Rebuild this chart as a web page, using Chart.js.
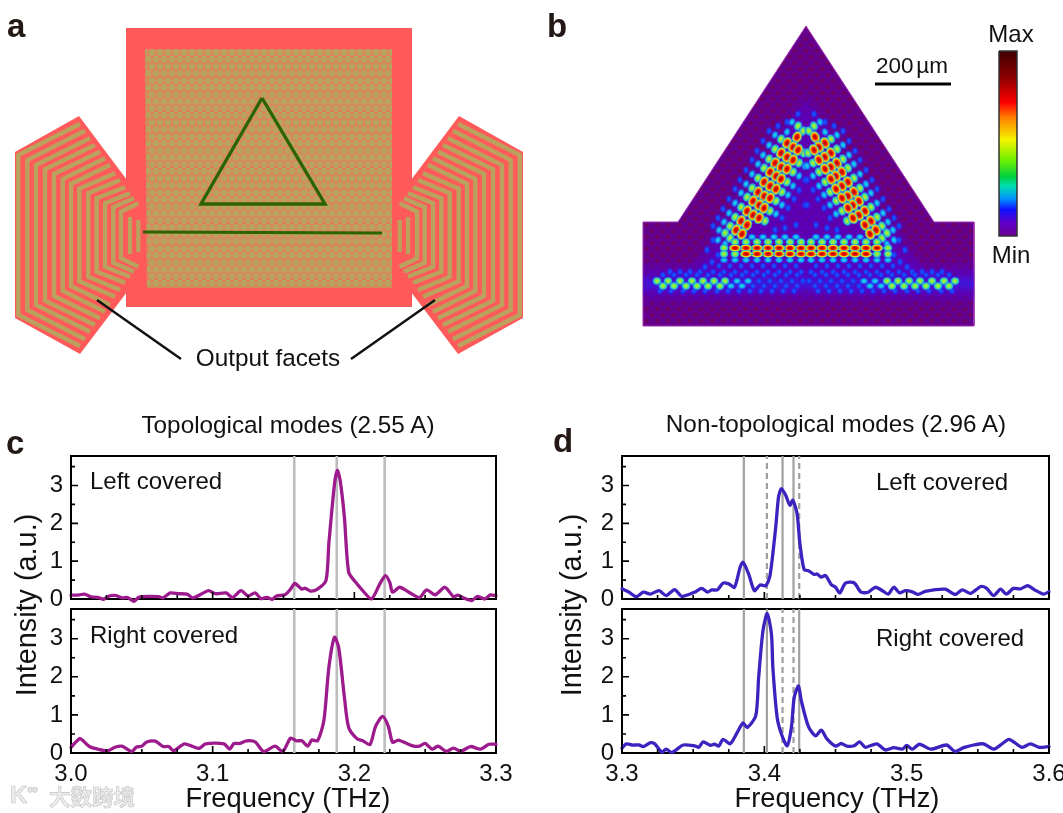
<!DOCTYPE html>
<html><head><meta charset="utf-8">
<style>
html,body{margin:0;padding:0;background:#fff;width:1063px;height:813px;overflow:hidden}
body{font-family:"Liberation Sans",Arial,sans-serif;color:#111;position:relative}
canvas{position:absolute}
.t{position:absolute;white-space:nowrap;line-height:1;transform:translateY(-50%)}
.c{transform:translate(-50%,-50%)}
.p{font-weight:bold;font-size:33px;color:#231815}
.r{transform:translate(-50%,-50%) rotate(-90deg);font-size:28.8px}
#glowClip{position:absolute;left:0;top:0;width:1063px;height:813px;clip-path:polygon(806px 26px,934px 222px,974px 222px,974px 326px,643px 326px,643px 222px,678px 222px)}
#glow{filter:blur(4px)}
</style></head><body>
<canvas id="base" width="1063" height="813" style="left:0;top:0"></canvas>
<div id="glowClip"><canvas id="glow" width="1063" height="813" style="left:0;top:0"></canvas></div>
<canvas id="top" width="1063" height="813" style="left:0;top:0"></canvas>
<canvas id="c1" width="530" height="170" style="left:11px;top:444px"></canvas>
<canvas id="c2" width="530" height="218" style="left:11px;top:597px"></canvas>
<canvas id="d1" width="520" height="170" style="left:562px;top:444px"></canvas>
<canvas id="d2" width="520" height="218" style="left:562px;top:597px"></canvas>

<div class="t p" style="left:7px;top:25px">a</div>
<div class="t p" style="left:547px;top:25px">b</div>
<div class="t p" style="left:6px;top:442px">c</div>
<div class="t p" style="left:553px;top:440px">d</div>
<div class="t c" style="left:268px;top:358px;font-size:24.3px">Output facets</div>
<div class="t c" style="left:1011px;top:34px;font-size:24px">Max</div>
<div class="t c" style="left:1011px;top:255px;font-size:24px">Min</div>
<div class="t c" style="left:912px;top:66px;font-size:22.5px;word-spacing:-3.5px">200 µm</div>
<div class="t c" style="left:288px;top:425px;font-size:24.3px">Topological modes (2.55 A)</div>
<div class="t c" style="left:836px;top:424px;font-size:24.3px">Non-topological modes (2.96 A)</div>
<div class="t" style="left:90px;top:481px;font-size:24px">Left covered</div>
<div class="t" style="left:90px;top:635px;font-size:24px">Right covered</div>
<div class="t" style="left:876px;top:482px;font-size:24px">Left covered</div>
<div class="t" style="left:876px;top:638px;font-size:24px">Right covered</div>
<div class="t r" style="left:26px;top:605px">Intensity (a.u.)</div>
<div class="t r" style="left:571px;top:605px">Intensity (a.u.)</div>
<div class="t c" style="left:288px;top:798px;font-size:27.3px">Frequency (THz)</div>
<div class="t c" style="left:837px;top:798px;font-size:27.3px">Frequency (THz)</div>
<div class="t" style="left:10px;top:794px;font-size:24px;font-weight:bold;color:#ececec;-webkit-text-stroke:.6px #c4c4c4">K<sup style="font-size:15px">∞</sup></div>
<div class="t" style="left:49px;top:796px;font-size:21.5px;font-weight:bold;color:#ececec;-webkit-text-stroke:.6px #c4c4c4;font-family:'Noto Sans CJK SC'">大数跨境</div>

<script src="https://cdn.jsdelivr.net/npm/chart.js@4"></script>
<script>
// ---------- spectra: frequency (THz) and intensity (a.u.) ----------
const cLeftX=[3.000,3.006,3.0095,3.014,3.019,3.023,3.027,3.032,3.036,3.040,3.0445,3.048,3.055,3.062,3.065,3.070,3.076,3.082,3.086,3.092,3.097,3.102,3.1095,3.114,3.120,3.125,3.130,3.134,3.138,3.142,3.145,3.151,3.155,3.158,3.163,3.165,3.169,3.174,3.180,3.182,3.186,3.188,3.190,3.193,3.196,3.201,3.205,3.212,3.218,3.222,3.225,3.227,3.232,3.238,3.246,3.251,3.257,3.264,3.270,3.273,3.277,3.283,3.287,3.292,3.296,3.300];
const cLeftY=[.10,.11,.13,.06,.04,-.01,.08,.09,.03,.04,-.06,.05,.07,.06,.03,.16,.14,.13,.03,.13,.22,.14,.16,.04,.22,.08,.16,.01,.04,-.01,.08,.11,.26,.41,.26,.29,.21,.26,.49,1.46,3.04,3.40,3.13,2.16,.71,.44,.26,0,.40,.62,.44,.18,.31,.19,.04,.24,.11,.31,.06,.10,.03,-.04,.07,0,.11,.09];
const cRightX=[3.0,3.006,3.008,3.013,3.019,3.026,3.031,3.036,3.043,3.046,3.05,3.0535,3.0595,3.065,3.069,3.0725,3.08,3.086,3.0905,3.095,3.108,3.112,3.115,3.119,3.124,3.13,3.136,3.144,3.1495,3.155,3.159,3.163,3.167,3.17,3.174,3.1785,3.182,3.186,3.189,3.193,3.196,3.202,3.206,3.211,3.215,3.22,3.224,3.227,3.231,3.237,3.242,3.246,3.25,3.255,3.259,3.265,3.27,3.275,3.282,3.289,3.295,3.3];
const cRightY=[.15,.38,.34,.17,.10,.06,.15,.18,.04,.15,.18,.29,.31,.17,.17,.06,.24,.17,.12,.24,.24,.10,.25,.25,.32,.29,.04,.18,.04,.39,.32,.32,.18,.34,.32,.85,2.24,3.04,2.76,1.46,.67,.37,.32,.22,.70,.96,.70,.28,.34,.25,.18,.18,.25,.10,.18,.04,.13,.04,.17,.10,.23,.23];
const dLeftX=[3.3,3.305,3.31,3.315,3.32,3.326,3.331,3.337,3.342,3.351,3.356,3.36,3.363,3.367,3.371,3.375,3.379,3.383,3.385,3.389,3.393,3.397,3.401,3.404,3.408,3.41,3.412,3.415,3.418,3.42,3.423,3.425,3.428,3.431,3.435,3.437,3.44,3.443,3.447,3.45,3.453,3.457,3.463,3.468,3.473,3.478,3.483,3.487,3.491,3.495,3.499,3.504,3.508,3.513,3.527,3.534,3.539,3.545,3.552,3.556,3.561,3.566,3.57,3.575,3.58,3.585,3.59,3.596,3.6];
const dLeftY=[.27,.18,.06,.18,.13,.22,.09,.25,.07,.18,.28,.18,.24,.24,.42,.40,.31,.84,.97,.66,.22,.37,.35,.62,1.90,2.70,2.92,2.74,2.48,2.61,2.26,1.46,.77,.75,.65,.66,.58,.62,.38,.31,.16,.42,.43,.18,.18,.31,.22,.13,.31,.16,.22,.19,.12,.20,.26,.12,.24,.15,.33,.29,.09,.26,.13,.28,.27,.35,.24,.13,.19];
const dRightX=[3.3,3.303,3.307,3.312,3.315,3.32,3.323,3.328,3.331,3.335,3.343,3.351,3.354,3.357,3.362,3.365,3.368,3.371,3.376,3.381,3.385,3.388,3.394,3.396,3.399,3.402,3.405,3.406,3.409,3.412,3.416,3.419,3.421,3.424,3.426,3.431,3.436,3.44,3.444,3.45,3.454,3.458,3.463,3.467,3.471,3.479,3.485,3.491,3.497,3.5,3.504,3.509,3.517,3.528,3.534,3.54,3.547,3.554,3.561,3.567,3.572,3.581,3.587,3.593,3.6];
const dRightY=[.13,.24,.21,.21,.17,.27,.24,.02,.10,.01,.21,.19,.15,.29,.20,.23,.18,.36,.24,.54,.79,.67,.98,1.98,3.20,3.66,3.12,2.24,.93,.50,.19,.67,1.46,1.76,1.37,.69,.45,.60,.37,.18,.25,.18,.19,.29,.15,.24,.08,.14,.10,.20,.10,.23,.10,.21,.04,.14,.21,.24,.10,.24,.36,.15,.24,.15,.17];
// reference mode lines (THz)
const cModes=[3.1576,3.1876,3.2214];
const dLeftSolid=[3.3856,3.4128,3.4205], dLeftDashed=[3.4018,3.4245];
const dRightSolid=[3.3856,3.4018,3.4245], dRightDashed=[3.4128,3.4205];
// tick values
const yMajor=[0,1,2,3], yMinor=[.5,1.5,2.5,3.5];
const cXMajor=[3.0,3.1,3.2,3.3], cXMinor=[3.025,3.05,3.075,3.125,3.15,3.175,3.225,3.25,3.275];
const dXMajor=[3.3,3.4,3.5,3.6], dXMinor=[3.325,3.35,3.375,3.425,3.45,3.475,3.525,3.55,3.575];
const yTop=3.78;

// ---------- panel a outline, in page units ----------
const squareOuter=[[126,28],[412,28],[412,307],[126,307]];
const latticeArea=[[145,49],[392,49],[392,288],[147,288]];
const hornLeft=[[79,116],[15,152],[15,318],[80,354],[127,292],[127,180]];
const triangleA=[[262,98],[201,204],[325,204],[262,98]];
const waveguideA=[[143,232],[382,233]];
const calloutL=[[97,300],[181,359]], calloutR=[[435,300],[351,359]];
const chevX=[18.3,27.3,36,45,54,62.7,71,79.3,88.3,96.7,105,113.3,121];
const chevCornerTop=[155,160,165,169.3,174,179,184,188.7,193.3,198.3,203.3,207.3,211.7];
const chevCornerBot=[315,310,305,300.7,296,291,286,281.3,276.7,271.7,266.7,262.7,258.3];
const chevEndX=[80,85,90,95,100,105,110,115,120,125,130,134,138.3];
const chevEndTop=[124,130.7,138.3,145,151.7,158.3,165,173.3,180,187.3,193.3,198.3,203.3];
const chevEndBot=[346,339.3,331.7,325,318.3,311.7,305,296.7,290,282.7,276.7,271.7,266.7];
const barLines=[[[130,217],[130,254]],[[138.3,220],[138.3,252]]];
const hornMirror=538;

// ---------- panel b outline and field lobes, in page units ----------
const fieldShape=[[806,26],[934,222],[974,222],[974,326],[643,326],[643,222],[678,222],[806,26]];
const glowTriangle=[[806,95],[925,272],[690,272]];
const glowBand=[[640,266],[980,266],[980,300],[640,300]];
const blueBand=[[640,280],[980,280],[980,287],[640,287]];
const scaleBar=[[875,84],[951,84]];
const barBox=[[999,51],[1017,51],[1017,236],[999,236],[999,51]];
const hotArm=[[797,137],[787,143],[793,147],[798,150],[781,153],[787,157],[793,160],[775,163],[781,167],[787,169],[770,172],[776,176],[781,179],[764,182],[770,186],[776,189],[758,192],[764,196],[770,198],[753,201],[759,205],[764,208],[747,211],[753,215],[759,218],[741,221],[747,225],[736,230],[742,234]];
const greenArm=[[798,126],[803,131],[781,139],[775,149],[769,159],[764,168],[758,178],[752,188],[747,197],[741,207],[735,217],[730,226],[804,153],[799,163],[793,172],[787,182],[782,192],[776,201],[770,211],[765,221],[730,238],[725,233]];
const cyanArm=[[792,122],[775,135],[769,145],[763,155],[758,164],[752,174],[746,184],[741,193],[735,203],[729,213],[724,222],[805,166],[799,176],[793,186],[788,195],[782,205],[776,214],[787,132],[719,230],[725,244],[718,240]];
const blueArm=[[798,114],[769,131],[763,141],[757,151],[752,160],[746,170],[740,180],[735,189],[729,199],[723,209],[718,218],[805,180],[799,190],[794,199],[788,208],[782,218],[787,122],[778,126],[713,226],[713,240],[707,250],[718,255],[712,262],[705,267],[700,272],[690,272],[680,272],[670,272],[805,205],[796,225],[785,228],[775,230]];
const hotBar=[[801,248],[790,248],[779,248],[768,248],[757,248],[746,248],[735,248],[801,254],[790,254],[779,254],[768,254],[757,254],[746,254]];
const greenBar=[[801,242],[790,242],[779,242],[768,242],[757,242],[746,242],[735,242],[724,248],[724,254],[735,254],[657,281],[668,281],[680,281],[692,281],[703,281],[714,281],[725,281],[663,286],[674,286],[686,286],[697,286],[708,286],[720,286]];
const cyanBar=[[796,237],[785,237],[774,237],[763,237],[752,237],[801,260],[790,260],[779,260],[768,260],[757,260],[746,260],[735,260],[724,260],[731,286],[742,286],[737,281],[748,281]];
const blueBar=[[796,266],[785,266],[774,266],[763,266],[752,266],[741,266],[730,266],[719,266],[801,272],[790,272],[779,272],[768,272],[757,272],[746,272],[735,272],[724,272],[713,272],[663,275],[674,275],[686,275],[697,275],[708,275],[720,275],[731,275],[742,275],[753,275],[764,275],[775,275],[786,275],[797,275],[660,291],[671,291],[683,291],[694,291],[705,291],[717,291],[728,291],[739,291],[750,291],[761,291],[772,291],[783,291],[794,291],[759,281],[770,281],[781,281],[792,281],[803,281],[753,286],[764,286],[775,286],[786,286],[797,286]];
// colour scale stops, top to bottom
const barStops=[[0,'#3f0000'],[.14,'#8a0000'],[.28,'#ff0000'],[.355,'#ff7a00'],[.48,'#f4f400'],[.59,'#70f000'],[.68,'#00d040'],[.73,'#00e0b0'],[.80,'#0090ff'],[.857,'#1010ff'],[.93,'#6000c8'],[1,'#6a0090']];

// ---------- helpers ----------
Chart.defaults.font.family='"Liberation Sans",Arial,sans-serif';
const RED='#ff5a5a',OLIVE='#b9a25e',GREEN='#2b6400';
function tile(w,h,draw){const c=document.createElement('canvas');c.width=w;c.height=h;draw(c.getContext('2d'));return c;}
function pattern(ctx,w,h,draw){return ctx.createPattern(tile(w,h,draw),'repeat');}
function sprite(w,h,stops){
  return tile(w,h,g=>{g.translate(w/2,h/2);g.scale(w/2,h/2);
    const r=g.createRadialGradient(0,0,0,0,0,1);stops.forEach(s=>r.addColorStop(s[0],s[1]));
    g.fillStyle=r;g.beginPath();g.arc(0,0,1,0,7);g.fill();});
}
const HOT=[[0,'#a00000'],[.45,'#ff2000'],[.66,'#ffd800'],[.84,'#50e890'],[.94,'#2090ff'],[1,'rgba(40,40,255,0)']];
const GRN=[[0,'#d8f000'],[.5,'#50e880'],[.8,'#1898ff'],[1,'rgba(40,40,255,0)']];
const CYN=[[0,'#20f0d0'],[.55,'#1090ff'],[1,'rgba(40,40,255,0)']];
const BLU=[[0,'#1468ff'],[.6,'#2030f0'],[1,'rgba(60,20,240,0)']];
const both=a=>a.concat(a.map(([x,y])=>[1612-x,y]));
const mirror=a=>a.map(([x,y])=>[hornMirror-x,y]);
const close=a=>a.concat([a[0]]);
function pageChart(id,items){
  items.forEach((d,i)=>{d.order=-i;});
  return new Chart(document.getElementById(id),{type:'scatter',data:{datasets:items},
    options:{responsive:false,animation:false,devicePixelRatio:1,events:[],
      layout:{padding:0,autoPadding:false},
      plugins:{legend:{display:false},tooltip:{enabled:false},filler:{drawTime:'beforeDatasetDraw',propagate:false}},
      scales:{x:{type:'linear',min:0,max:1063,display:false},y:{type:'linear',min:0,max:813,reverse:true,display:false}}}});
}
const poly=(pts,color,extra={})=>Object.assign({data:close(pts),showLine:true,fill:'shape',backgroundColor:color,borderWidth:0,borderColor:'rgba(0,0,0,0)',pointRadius:0,tension:0,clip:false},extra);
const path=(pts,color,w,extra={})=>Object.assign({data:pts,showLine:true,fill:false,borderColor:color,borderWidth:w,pointRadius:0,tension:0,borderCapStyle:'butt',borderJoinStyle:'miter',clip:false},extra);
const dots=(pts,img,rot=0)=>({data:pts,showLine:false,pointStyle:img,pointRadius:5,pointRotation:rot,borderWidth:0,clip:false});

// ---------- layers for panels a and b ----------
const ctxBase=document.getElementById('base').getContext('2d');
const ctxTop=document.getElementById('top').getContext('2d');
const fieldPattern=pattern(ctxBase,11,12,g=>{g.fillStyle='#64008e';g.fillRect(0,0,11,12);g.fillStyle='#6e0068';
  [[2.7,3],[8.2,9]].forEach(p=>{g.beginPath();g.ellipse(p[0],p[1],2.6,2.2,0,0,7);g.fill();});});
pageChart('base',[poly(fieldShape,fieldPattern,{borderWidth:1,borderColor:'#a030b8'})]);
pageChart('glow',[poly(glowTriangle,'rgba(84,0,215,.55)'),poly(glowBand,'rgba(84,0,215,.55)'),poly(blueBand,'rgba(40,40,255,.85)')]);

const latticePattern=pattern(ctxTop,8,14,g=>{g.fillStyle='#e87a5e';g.fillRect(0,0,8,14);g.fillStyle=OLIVE;
  [[4,3.5],[0,10.5],[8,10.5]].forEach(p=>{g.beginPath();g.arc(p[0],p[1],3.6,0,7);g.fill();});});
const barGrad=ctxTop.createLinearGradient(0,51,0,236);barStops.forEach(s=>barGrad.addColorStop(s[0],s[1]));

const layers=[poly(squareOuter,RED),poly(hornLeft,RED),poly(mirror(hornLeft),RED)];
const chev=chevX.map((x,i)=>[[chevEndX[i],chevEndTop[i]],[x,chevCornerTop[i]],[x,chevCornerBot[i]],[chevEndX[i],chevEndBot[i]]]);
chev.forEach(c=>{layers.push(path(c,OLIVE,4.4));layers.push(path(mirror(c),OLIVE,4.4));});
barLines.forEach(b=>{layers.push(path(b,OLIVE,4.2));layers.push(path(mirror(b),OLIVE,4.2));});
layers.push(poly(latticeArea,latticePattern));
layers.push(path(triangleA,GREEN,3.4,{borderJoinStyle:'miter'}));
layers.push(path(waveguideA,GREEN,3.2));
layers.push(path(calloutL,'#111',2.5));
layers.push(path(calloutR,'#111',2.5));
// field lobes
const mk=(w,h,s)=>sprite(w,h,s);
layers.push(dots(blueArm,mk(7,9,BLU)),dots(blueArm.map(([x,y])=>[1612-x,y]),mk(7,9,BLU)));
layers.push(dots(both(blueBar),mk(7,8,BLU)));
layers.push(dots(both(cyanBar),mk(10,8,CYN)));
layers.push(dots(cyanArm,mk(8,10,CYN),22),dots(cyanArm.map(([x,y])=>[1612-x,y]),mk(8,10,CYN),-22));
layers.push(dots(greenArm,mk(9,11,GRN),24),dots(greenArm.map(([x,y])=>[1612-x,y]),mk(9,11,GRN),-24));
layers.push(dots(both(greenBar),mk(10,9,GRN)));
layers.push(dots(hotArm,mk(10,13,HOT),26),dots(hotArm.map(([x,y])=>[1612-x,y]),mk(10,13,HOT),-26));
layers.push(dots(both(hotBar),mk(13,8,HOT)));
layers.push(path(scaleBar,'#000',3));
layers.push(poly(barBox,barGrad,{borderWidth:1.5,borderColor:'#333'}));
pageChart('top',layers);

// ---------- spectra ----------
const frame={id:'frame',
  beforeDatasetsDraw(ch,_,o){const a=ch.chartArea,g=ch.ctx;g.save();g.strokeStyle='#000';g.lineWidth=2;g.strokeRect(a.left,a.top,a.right-a.left,a.bottom-a.top);g.restore();},
  afterDatasetsDraw(ch,_,o){const a=ch.chartArea,g=ch.ctx,sx=ch.scales.x,sy=ch.scales.y;g.save();g.strokeStyle='#000';g.lineWidth=1.6;g.beginPath();
    yMajor.forEach(v=>{const p=sy.getPixelForValue(v);g.moveTo(a.left,p);g.lineTo(a.left+7,p);});
    yMinor.forEach(v=>{const p=sy.getPixelForValue(v);g.moveTo(a.left,p);g.lineTo(a.left+4,p);});
    o.xMajor.forEach(v=>{const p=sx.getPixelForValue(v);g.moveTo(p,a.bottom);g.lineTo(p,a.bottom-7);});
    o.xMinor.forEach(v=>{const p=sx.getPixelForValue(v);g.moveTo(p,a.bottom);g.lineTo(p,a.bottom-4);});
    g.stroke();g.restore();}};
function spectrum(id,xs,ys,color,range,solid,dashed,gray,gw,xMajor,xMinor,labelled,padRight){
  const modeSet=(vals,dash)=>vals.map(v=>({type:'line',data:[{x:v,y:0},{x:v,y:yTop}],borderColor:gray,borderWidth:gw,borderDash:dash,pointRadius:0,tension:0,order:5}));
  new Chart(document.getElementById(id),{type:'line',
    data:{datasets:[{data:xs.map((x,i)=>({x,y:ys[i]})),borderColor:color,borderWidth:3.3,pointRadius:0,tension:.25,clip:false,order:1,borderJoinStyle:'round',borderCapStyle:'round'},
      ...modeSet(solid,[]),...modeSet(dashed,[6,4])]},
    plugins:[frame],
    options:{responsive:false,animation:false,devicePixelRatio:1,events:[],
      layout:{autoPadding:false,padding:{top:12,right:padRight,left:0,bottom:labelled?0:15}},
      plugins:{legend:{display:false},tooltip:{enabled:false},frame:{xMajor,xMinor}},
      scales:{
        x:{type:'linear',min:range[0],max:range[1],grid:{display:false,drawTicks:false},border:{display:false},
          afterFit(s){s.height=labelled?62:0;s.paddingLeft=0;s.paddingRight=0;},
          ticks:{display:labelled,stepSize:.1,includeBounds:true,autoSkip:false,maxRotation:0,minRotation:0,padding:7,color:'#111',font:{size:24},callback:v=>Number(v).toFixed(1)}},
        y:{type:'linear',min:0,max:yTop,grid:{display:false,drawTicks:false},border:{display:false},
          afterFit(s){s.width=60;s.paddingTop=0;s.paddingBottom=0;},
          ticks:{stepSize:1,includeBounds:false,padding:8,color:'#111',font:{size:24},callback:v=>String(v)}}}}});
}
const PUR='#9c1a8c',BLUE='#3d22c0';
spectrum('c1',cLeftX,cLeftY,PUR,[3.0,3.3],cModes,[],'#bdbdbd',2.6,cXMajor,cXMinor,false,45);
spectrum('c2',cRightX,cRightY,PUR,[3.0,3.3],cModes,[],'#bdbdbd',2.6,cXMajor,cXMinor,true,45);
spectrum('d1',dLeftX,dLeftY,BLUE,[3.3,3.6],dLeftSolid,dLeftDashed,'#a0a0a0',2.2,dXMajor,dXMinor,false,33);
spectrum('d2',dRightX,dRightY,BLUE,[3.3,3.6],dRightSolid,dRightDashed,'#a0a0a0',2.2,dXMajor,dXMinor,true,33);
</script>
</body></html>
